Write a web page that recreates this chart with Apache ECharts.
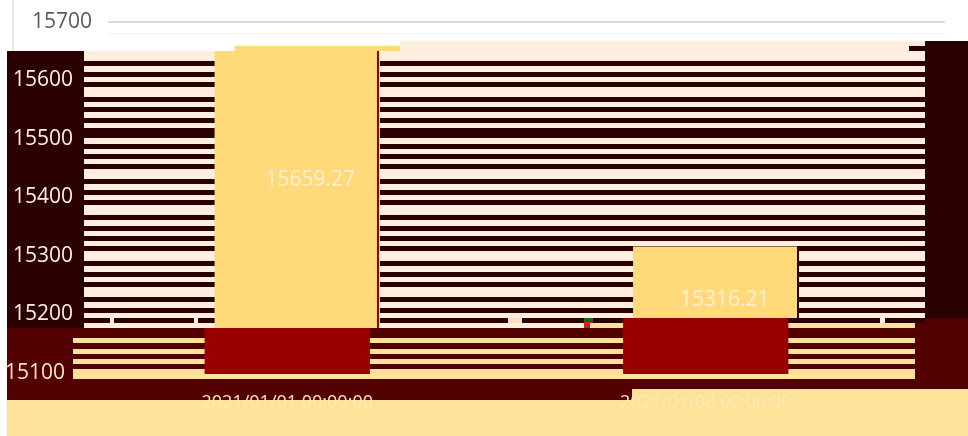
<!DOCTYPE html>
<html>
<head>
<meta charset="utf-8">
<style>html,body{margin:0;padding:0;background:#fff}#c{width:968px;height:436px}</style>
<script src="https://cdn.jsdelivr.net/npm/echarts@6/dist/echarts.min.js"></script>
</head>
<body>
<div id="c"></div>
<script>
const categories = ['2021/01/01 00:00:00', '2021/01/08 00:00:00'];
const barValues = [15659.27, 15316.21];
const tickValues = [15700, 15600, 15500, 15400, 15300, 15200, 15100];

const FONT = '"Open Sans"';
const C = { dark:'#2b0000', cream:'#feeee0', wine:'#520000', sand:'#fee29a', red:'#990000', gold:'#ffd97a', grey:'#595959' };

// the value scale of the picture: 15700 sits at y=22, and 100 units take 58.5px
const toValue = py => 15700 - (py - 22) / 0.585;

// Picture bands: the same axis scale seen through horizontally shifted windows
const bands = [
  { left:108, right:945, top:22,  bottom:51,  fill:C.gold, show:[0], ticks:tickValues.slice(0,1), tickColor:C.grey, margin:16, split:true },
  { left:88,  right:925, top:51,  bottom:328, fill:C.gold, show:[0], ticks:tickValues.slice(1,6), tickColor:'#fff0e0', margin:15, label:{offset:[13,-9]} },
  { left:88,  right:925, top:51,  bottom:318, fill:C.gold, show:[1], ticks:[], label:{offset:[9,18]} },
  { left:78,  right:915, top:328, bottom:374, fill:C.red,  show:[0], ticks:tickValues.slice(6), tickColor:'#fde9b8', margin:13, cat:0 },
  { left:78,  right:915, top:318, bottom:374, fill:C.red,  show:[1], ticks:[], cat:1 }
];

const rect = (x, y, w, h, fill, z) => ({ type:'rect', silent:true, z:z||0, shape:{x, y, width:w, height:h}, style:{fill} });

const graphics = [
  rect(12, 0, 2, 51, '#e8e8e8'),
  rect(108, 33, 837, 1, '#f3f3f3'),
  rect(400, 41, 525, 10, C.cream),
  rect(925, 41, 43, 10, C.dark),
  rect(909, 46, 16, 5, C.dark),
  rect(7, 51, 961, 277, C.dark),
  rect(84, 51, 841, 277, C.cream),
  rect(7, 328, 961, 72, C.wine),
  rect(622, 318, 346, 10, C.wine),
  rect(7, 400, 961, 36, C.sand),
  rect(632, 389, 336, 11, C.sand)
];
[61,72,82,97,107,118,144,154,164,179,190,200,215,226,236,246,261,272,282,297,308].forEach(y =>
  graphics.push(rect(84, y, 841, 5, C.dark)));
graphics.push(rect(84, 128, 841, 10, C.dark));
graphics.push(rect(84, 318, 841, 5, C.dark));
graphics.push(rect(110, 318, 4, 5, C.cream), rect(194, 318, 4, 5, C.cream), rect(508, 318, 14, 5, '#ffdcc0'), rect(880, 318, 5, 5, C.cream));
graphics.push(rect(584, 318, 9, 4, '#0b6b12'), rect(584, 322, 9, 6, '#cc2020'));
graphics.push(rect(590, 323, 325, 5, C.sand));
[338,349,359].forEach(y => graphics.push(rect(73, y, 842, 5, C.sand)));
graphics.push(rect(73, 369, 842, 10, C.sand));
graphics.push(rect(377, 51, 2, 277, C.red, 10), rect(797, 246, 2, 72, C.dark, 10));

const grid = [], xAxis = [], yAxis = [], series = [];
bands.forEach((b, i) => {
  grid.push({ left:b.left, top:b.top, width:b.right-b.left, height:b.bottom-b.top });
  xAxis.push({
    type:'category', gridIndex:i, data:categories, show:b.cat !== undefined,
    axisLine:{show:false}, axisTick:{show:false},
    axisLabel:{ show:b.cat !== undefined, interval:0, margin:20, fontFamily:FONT, fontSize:18, color:'#fdeab0',
      formatter:(v, idx) => idx === b.cat ? v : '' }
  });
  yAxis.push({
    type:'value', gridIndex:i, min:toValue(b.bottom), max:toValue(b.top),
    axisLine:{show:false},
    axisTick:{show:false, customValues:b.ticks},
    splitLine:{show:!!b.split, lineStyle:{color:'#dcdcdc', width:2}},
    axisLabel:{ show:b.ticks.length > 0, customValues:b.ticks, margin:b.margin||15,
      fontFamily:FONT, fontSize:21, color:b.tickColor||'#fff', formatter:v => String(v) }
  });
  series.push({
    type:'bar', xAxisIndex:i, yAxisIndex:i, barWidth:'39.5%', clip:true, z:3, animation:false,
    itemStyle:{color:b.fill},
    label:{ show:!!b.label, position:'inside', offset:b.label?b.label.offset:[0,0],
      fontFamily:FONT, fontSize:21, color:'#fff0d2',
      formatter:p => p.value.toFixed(2) },
    data:barValues.map((v, k) => b.show.includes(k) ? v : null)
  });
});

const chart = echarts.init(document.getElementById('c'), null, { renderer:'canvas' });
chart.setOption({
  animation:false, backgroundColor:'#fff',
  graphic:{ elements:graphics },
  grid, xAxis, yAxis, series
});
</script>
</body>
</html>
